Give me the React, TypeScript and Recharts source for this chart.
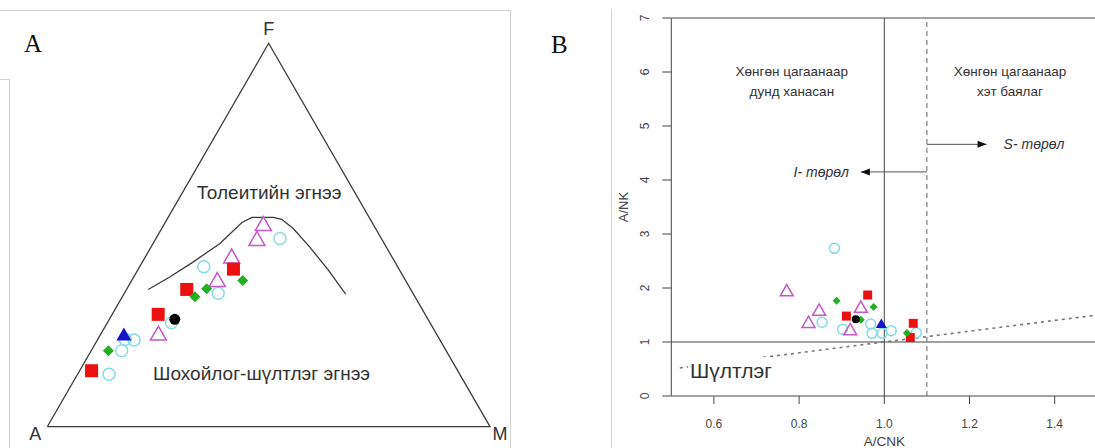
import React from 'react'
import {
  ScatterChart,
  Scatter,
  XAxis,
  YAxis,
  ReferenceLine,
  ReferenceDot,
} from 'recharts'

// A: AFM ternary, each point is [F, A, M] in %
type Tern = [number, number, number]
// B: Shand plot, each point is [A/CNK, A/NK]
type Pt = [number, number]

const afmRed: Tern[] = [
  [14.6, 82.7, 2.7],
  [29.3, 60.3, 10.4],
  [35.8, 50.6, 13.6],
  [41.1, 37.4, 21.5],
]
const afmGreen: Tern[] = [
  [19.8, 76.3, 3.9],
  [33.9, 49.7, 16.4],
  [36.0, 46.0, 18.0],
  [38.1, 36.8, 25.1],
]
const afmCyan: Tern[] = [
  [13.7, 79.2, 7.1],
  [19.8, 73.3, 6.9],
  [22.8, 71.0, 6.2],
  [22.6, 69.1, 8.3],
  [27.1, 58.4, 14.5],
  [34.8, 44.0, 21.2],
  [41.7, 43.8, 14.5],
  [49.1, 22.9, 28.0],
]
const afmMagenta: Tern[] = [
  [24.4, 62.7, 12.9],
  [38.4, 42.4, 19.2],
  [44.5, 36.1, 19.4],
  [49.1, 28.1, 22.8],
  [53.0, 24.7, 22.3],
]
const afmBlue: Tern[] = [[24.2, 70.6, 5.2]]
const afmBlack: Tern[] = [[28.0, 57.2, 14.8]]

// tholeiitic / calc-alkaline divide
const afmBoundary: Tern[] = [
  [35.8, 59.3, 4.9],
  [39.1, 52.7, 8.2],
  [43.0, 45.5, 11.5],
  [47.8, 37.1, 15.1],
  [53.2, 29.5, 17.3],
  [54.6, 26.5, 18.9],
  [54.6, 21.65, 23.75],
  [54.1, 20.0, 25.9],
  [51.7, 18.6, 29.7],
  [46.9, 17.3, 35.8],
  [40.9, 16.1, 43.0],
  [34.6, 15.3, 50.1],
]
const afmFrame: Tern[] = [
  [0, 100, 0],
  [0, 0, 100],
  [100, 0, 0],
  [0, 100, 0],
]

const shandCyan: Pt[] = [
  [0.883, 2.735],
  [0.854, 1.365],
  [0.902, 1.237],
  [0.968, 1.333],
  [0.971, 1.16],
  [0.995, 1.16],
  [1.016, 1.21],
  [1.075, 1.17],
]
const shandMagenta: Pt[] = [
  [0.771, 1.96],
  [0.847, 1.6],
  [0.822, 1.373],
  [0.945, 1.654],
  [0.92, 1.238],
]
const shandRed: Pt[] = [
  [0.961, 1.87],
  [0.911, 1.48],
  [1.068, 1.346],
  [1.061, 1.083],
]
const shandGreen: Pt[] = [
  [0.888, 1.765],
  [0.975, 1.647],
  [0.945, 1.413],
  [1.053, 1.165],
]
const shandBlack: Pt[] = [[0.933, 1.423]]
const shandBlue: Pt[] = [[0.993, 1.346]]

const shandXTicks = [0.6, 0.8, 1.0, 1.2, 1.4]
const shandYTicks = [0, 1, 2, 3, 4, 5, 6, 7]
const shandAlkaline: Pt[] = [
  [0.52, 0.52],
  [1.5, 1.5],
]
const sTypeArrow: Pt[] = [
  [1.1, 4.66],
  [1.24, 4.66],
]
const iTypeArrow: Pt[] = [
  [1.1, 4.15],
  [0.945, 4.15],
]

const SQRT3_2 = Math.sqrt(3) / 2
const FONT = '"Liberation Sans", Arial, sans-serif'
const INK = '#333'

function ternXY([f, a, m]: Tern) {
  const t = f + a + m
  return { x: (m + f / 2) / t, y: (f / t) * SQRT3_2 }
}
const toXY = (pts: Tern[]) => pts.map(ternXY)
const ptXY = (pts: Pt[]) => pts.map(([x, y]) => ({ x, y }))

type Kind = 'square' | 'diamond' | 'circle' | 'triangle' | 'blueTri' | 'dot'

function Marker({ cx, cy, kind, size }: { cx: number; cy: number; kind: Kind; size: number }) {
  const s = size / 2
  switch (kind) {
    case 'square':
      return <rect x={cx - s} y={cy - s} width={size} height={size} fill="#ec1111" />
    case 'diamond':
      return (
        <polygon
          points={`${cx},${cy - s} ${cx + s},${cy} ${cx},${cy + s} ${cx - s},${cy}`}
          fill="#22b022"
        />
      )
    case 'circle':
      return <circle cx={cx} cy={cy} r={s} fill="none" stroke="#84dce4" strokeWidth={1.5} />
    case 'dot':
      return <circle cx={cx} cy={cy} r={s} fill="#000" />
    case 'triangle':
    case 'blueTri': {
      const h = size * 0.87
      const pts = `${cx},${cy - h / 2} ${cx + s},${cy + h / 2} ${cx - s},${cy + h / 2}`
      return kind === 'triangle' ? (
        <polygon points={pts} fill="none" stroke="#c757c9" strokeWidth={1.5} />
      ) : (
        <polygon points={pts} fill="#1414c8" />
      )
    }
  }
}

const markerShape = (kind: Kind, size: number) => (p: any) => (
  <Marker cx={p.cx} cy={p.cy} kind={kind} size={size} />
)
const noShape = () => <g />

const textShape =
  (
    lines: string[],
    o: { dx?: number; dy?: number; size: number; anchor?: 'start' | 'middle' | 'end'; italic?: boolean; lineGap?: number; bg?: number }
  ) =>
  (p: any) => {
    const x = p.cx + (o.dx ?? 0)
    const y = p.cy + (o.dy ?? 0)
    const gap = o.lineGap ?? o.size * 1.4
    return (
      <g>
        {o.bg ? (
          <rect x={x - 2} y={y - o.size * 0.62} width={o.bg} height={o.size * 1.25} fill="#fff" />
        ) : null}
        <text
          x={x}
          y={y}
          fontSize={o.size}
          fontFamily={FONT}
          fontStyle={o.italic ? 'italic' : 'normal'}
          textAnchor={o.anchor ?? 'middle'}
          dominantBaseline="central"
          fill={INK}
        >
          {lines.map((l, i) => (
            <tspan key={i} x={x} dy={i === 0 ? 0 : gap}>
              {l}
            </tspan>
          ))}
        </text>
      </g>
    )
  }

const arrowHead = (dir: 1 | -1) => (p: any) => (
  <polygon
    points={`${p.cx},${p.cy} ${p.cx - dir * 9},${p.cy - 3.5} ${p.cx - dir * 9},${p.cy + 3.5}`}
    fill="#111"
  />
)

function RotatedTick({ x, y, payload }: any) {
  const tx = x - 15
  return (
    <text
      x={tx}
      y={y}
      transform={`rotate(-90, ${tx}, ${y})`}
      textAnchor="middle"
      dominantBaseline="central"
      fontSize={12}
      fontFamily={FONT}
      fill="#444"
    >
      {payload.value}
    </text>
  )
}

function AfmDiagram() {
  const f = ternXY([100, 0, 0])
  const a = ternXY([0, 100, 0])
  const m = ternXY([0, 0, 100])
  const thol = ternXY([61.2, 19.3, 19.5])
  const calc = ternXY([14.0, 44.6, 41.4])
  return (
    <ScatterChart width={510} height={448} margin={{ top: 43.3, right: 20, bottom: 21.3, left: 47.3 }}>
      <XAxis type="number" dataKey="x" domain={[0, 1]} hide />
      <YAxis type="number" dataKey="y" domain={[0, SQRT3_2]} hide />
      <Scatter data={toXY(afmFrame)} line={{ stroke: '#3a3a3a', strokeWidth: 1.3 }} shape={noShape} isAnimationActive={false} />
      <Scatter data={toXY(afmBoundary)} line={{ stroke: '#3a3a3a', strokeWidth: 1.3 }} shape={noShape} isAnimationActive={false} />
      <Scatter data={toXY(afmCyan)} shape={markerShape('circle', 12)} isAnimationActive={false} />
      <Scatter data={toXY(afmMagenta)} shape={markerShape('triangle', 16)} isAnimationActive={false} />
      <Scatter data={toXY(afmRed)} shape={markerShape('square', 13)} isAnimationActive={false} />
      <Scatter data={toXY(afmGreen)} shape={markerShape('diamond', 11)} isAnimationActive={false} />
      <Scatter data={toXY(afmBlack)} shape={markerShape('dot', 11)} isAnimationActive={false} />
      <Scatter data={toXY(afmBlue)} shape={markerShape('blueTri', 15)} isAnimationActive={false} />
      <ReferenceDot x={f.x} y={f.y} ifOverflow="visible" shape={textShape(['F'], { dy: -14, size: 18 })} />
      <ReferenceDot x={a.x} y={a.y} ifOverflow="visible" shape={textShape(['A'], { dx: -12, dy: 7, size: 18 })} />
      <ReferenceDot x={m.x} y={m.y} ifOverflow="visible" shape={textShape(['M'], { dx: 10, dy: 7, size: 18 })} />
      <ReferenceDot x={thol.x} y={thol.y} ifOverflow="visible" shape={textShape(['Толеитийн эгнээ'], { size: 19 })} />
      <ReferenceDot x={calc.x} y={calc.y} ifOverflow="visible" shape={textShape(['Шохойлог-шүлтлэг эгнээ'], { size: 19 })} />
    </ScatterChart>
  )
}

function ShandDiagram() {
  const [al0, al1] = ptXY(shandAlkaline)
  const [s0, s1] = ptXY(sTypeArrow)
  const [i0, i1] = ptXY(iTypeArrow)
  return (
    <ScatterChart width={520} height={448} margin={{ top: 18, right: 22.7, bottom: 0, left: 0 }}>
      <XAxis
        type="number"
        dataKey="x"
        domain={[0.5, 1.5]}
        ticks={shandXTicks}
        tickFormatter={(v: number) => v.toFixed(1)}
        height={52}
        tickSize={8}
        tickMargin={15}
        axisLine={{ stroke: '#444' }}
        tickLine={{ stroke: '#444' }}
        tick={{ fill: '#444', fontSize: 12, fontFamily: FONT }}
        label={{ value: 'A/CNK', position: 'insideBottom', offset: 2.5, fill: '#444', fontSize: 13.5, fontFamily: FONT }}
      />
      <YAxis
        type="number"
        dataKey="y"
        domain={[0, 7]}
        ticks={shandYTicks}
        width={71.3}
        tickSize={9}
        axisLine={{ stroke: '#444' }}
        tickLine={{ stroke: '#444' }}
        tick={<RotatedTick />}
        label={{
          value: 'A/NK',
          angle: -90,
          position: 'insideLeft',
          offset: 23.5,
          fill: '#444',
          fontSize: 13,
          fontFamily: FONT,
          style: { textAnchor: 'middle' },
        }}
      />
      <ReferenceLine y={7} stroke="#444" />
      <ReferenceLine x={1.5} stroke="#444" />
      <ReferenceLine y={1} stroke="#444" />
      <ReferenceLine x={1.0} stroke="#444" />
      <ReferenceLine x={1.1} stroke="#666" strokeDasharray="5 4" />
      <ReferenceLine segment={[al0, al1]} stroke="#777" strokeWidth={1.6} strokeDasharray="3 4" />
      <ReferenceLine segment={[s0, s1]} stroke="#555" />
      <ReferenceLine segment={[i0, i1]} stroke="#555" />
      <ReferenceDot x={s1.x} y={s1.y} shape={arrowHead(1)} />
      <ReferenceDot x={i1.x} y={i1.y} shape={arrowHead(-1)} />
      <ReferenceDot x={1.28} y={4.66} shape={textShape(['S- төрөл'], { size: 14, anchor: 'start', italic: true })} />
      <ReferenceDot x={0.917} y={4.15} shape={textShape(['I- төрөл'], { size: 14, anchor: 'end', italic: true })} />
      <ReferenceDot x={0.783} y={6.02} shape={textShape(['Хөнгөн цагаанаар', 'дунд ханасан'], { size: 13.5, lineGap: 20 })} />
      <ReferenceDot x={1.295} y={6.02} shape={textShape(['Хөнгөн цагаанаар', 'хэт баялаг'], { size: 13.5, lineGap: 20 })} />
      <ReferenceDot x={0.544} y={0.48} shape={textShape(['Шүлтлэг'], { size: 21, anchor: 'start', bg: 80 })} />
      <Scatter data={ptXY(shandCyan)} shape={markerShape('circle', 10)} isAnimationActive={false} />
      <Scatter data={ptXY(shandMagenta)} shape={markerShape('triangle', 13)} isAnimationActive={false} />
      <Scatter data={ptXY(shandRed)} shape={markerShape('square', 9)} isAnimationActive={false} />
      <Scatter data={ptXY(shandGreen)} shape={markerShape('diamond', 8)} isAnimationActive={false} />
      <Scatter data={ptXY(shandBlack)} shape={markerShape('dot', 8)} isAnimationActive={false} />
      <Scatter data={ptXY(shandBlue)} shape={markerShape('blueTri', 11)} isAnimationActive={false} />
    </ScatterChart>
  )
}

const frameLine = (left: number, top: number, width: number, height: number): React.CSSProperties => ({
  position: 'absolute',
  left,
  top,
  width,
  height,
  background: '#d2d2d2',
})

export default function App() {
  return (
    <div
      style={{
        position: 'absolute',
        left: 0,
        top: 0,
        width: 1095,
        height: 448,
        overflow: 'hidden',
        background: '#fff',
      }}
    >
      {/* screenshot panel borders */}
      <div style={frameLine(0, 10, 510, 1)} />
      <div style={frameLine(510, 10, 1, 438)} />
      <div style={frameLine(0, 79, 9, 1)} />
      <div style={frameLine(9, 79, 1, 369)} />
      <div style={frameLine(611, 9, 1, 439)} />

      <div style={{ position: 'absolute', left: 0, top: 0 }}>
        <AfmDiagram />
      </div>
      <div style={{ position: 'absolute', left: 600, top: 0 }}>
        <ShandDiagram />
      </div>

      <div style={{ position: 'absolute', left: 24, top: 30, fontFamily: '"Liberation Serif", serif', fontSize: 25, color: '#111' }}>
        A
      </div>
      <div style={{ position: 'absolute', left: 551, top: 31, fontFamily: '"Liberation Serif", serif', fontSize: 25, color: '#111' }}>
        B
      </div>
    </div>
  )
}
